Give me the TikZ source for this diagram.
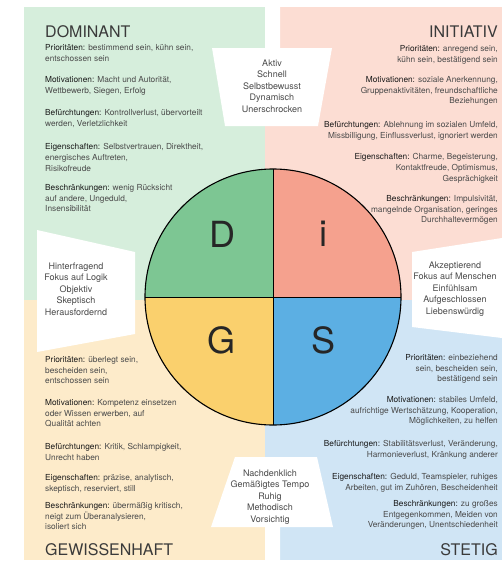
\documentclass[tikz,border=0pt]{standalone}
\usepackage{fontspec}
\setmainfont{TeX Gyre Heros}
\usepackage{xcolor}
\usetikzlibrary{positioning}
\definecolor{dompale}{HTML}{D6EEDC}
\definecolor{inipale}{HTML}{FCDDD3}
\definecolor{gewpale}{HTML}{FDEBCA}
\definecolor{stepale}{HTML}{D0E5F5}
\definecolor{domfill}{HTML}{7DC693}
\definecolor{inifill}{HTML}{F5A18E}
\definecolor{gewfill}{HTML}{FAD06D}
\definecolor{stefill}{HTML}{5CAFE3}
\definecolor{bodygray}{HTML}{4A4A4A}
\definecolor{titlegray}{HTML}{3A3A3A}
\newcommand{\lbl}[1]{\textcolor{black!90}{#1}}
\tikzset{
  infotext/.style={font=\fontsize{8.3}{10.8}\selectfont, text=bodygray, inner sep=0pt},
  infoleft/.style={infotext, align=left, anchor=north west},
  inforight/.style={infotext, align=right, anchor=north east},
  typetitle/.style={font=\fontsize{16}{18}\selectfont, text=titlegray, inner sep=0pt},
  traittext/.style={font=\fontsize{9}{11.6}\selectfont, text=bodygray, align=center, inner sep=0pt},
  discletter/.style={font=\fontsize{36}{36}\selectfont, text=black!85, inner sep=0pt}
}

\begin{document}
\begin{tikzpicture}[x=1pt, y=-1pt]
  \useasboundingbox (0,0) rectangle (502,566);

  % background panels
  \fill[dompale] (24,7) rectangle (265,300);
  \fill[inipale] (265,7) rectangle (502,300);
  \fill[gewpale] (24,300) rectangle (265,560);
  \fill[stepale] (265,300) rectangle (502,560);

  % white trait fields
  \fill[white] (265,0) -- (280,0) -- (280,48) -- (332,48) -- (318,126)
    -- (225,126) -- (212,48) -- (265,48) -- cycle;
  \fill[white] (37,230) -- (135,252) -- (135,334) -- (37,352) -- cycle;
  \fill[white] (412,252) -- (502,238) -- (502,338) -- (412,327) -- cycle;
  \fill[white] (235,457) -- (317,457) -- (333,527) -- (280,527) -- (280,566)
    -- (265,566) -- (265,527) -- (211,527) -- cycle;

  % DISC circle
  \coordinate (c) at (273,297);
  \fill[domfill] (c) -- ++(180:128) arc[start angle=180, end angle=270, radius=128] -- cycle;
  \fill[inifill] (c) -- ++(270:128) arc[start angle=270, end angle=360, radius=128] -- cycle;
  \fill[stefill] (c) -- ++(0:128) arc[start angle=0, end angle=90, radius=128] -- cycle;
  \fill[gewfill] (c) -- ++(90:128) arc[start angle=90, end angle=180, radius=128] -- cycle;
  \draw[line width=1.1pt] (c) circle[radius=128];
  \draw[line width=1pt] (c) ++(-128,0) -- ++(256,0);
  \draw[line width=1pt] (c) ++(0,-128) -- ++(0,256);

  \node[discletter] (letD) at (222,234) {D};
  \node[discletter] (letI) at (323,234) {i};
  \node[discletter] (letG) at (222,340) {G};
  \node[discletter] (letS) at (324,340) {S};

  % DOMINANT
  \node[typetitle, anchor=base west] (domTitle) at (45,37) {DOMINANT};
  \node[infoleft] (domPrio) at (45,44) {\lbl{Prioritäten:} bestimmend sein, kühn sein,\\entschossen sein};
  \node[infoleft] (domMotiv) at (45,76) {\lbl{Motivationen:} Macht und Autorität,\\Wettbewerb, Siegen, Erfolg};
  \node[infoleft] (domFurcht) at (45,109) {\lbl{Befürchtungen:} Kontrollverlust, übervorteilt\\werden, Verletzlichkeit};
  \node[infoleft] (domEigen) at (45,143) {\lbl{Eigenschaften:} Selbstvertrauen, Direktheit,\\energisches Auftreten,\\Risikofreude};
  \node[infoleft] (domGrenz) at (45,184) {\lbl{Beschränkungen:} wenig Rücksicht\\auf andere, Ungeduld,\\Insensibilität};

  % INITIATIV
  \node[typetitle, anchor=base east] (iniTitle) at (498,37) {INITIATIV};
  \node[inforight] (iniPrio) at (498,45) {\lbl{Prioritäten:} anregend sein,\\kühn sein, bestätigend sein};
  \node[inforight] (iniMotiv) at (498,76) {\lbl{Motivationen:} soziale Anerkennung,\\Gruppenaktivitäten, freundschaftliche\\Beziehungen};
  \node[inforight] (iniFurcht) at (498,121) {\lbl{Befürchtungen:} Ablehnung im sozialen Umfeld,\\Missbilligung, Einflussverlust, ignoriert werden};
  \node[inforight] (iniEigen) at (498,153) {\lbl{Eigenschaften:} Charme, Begeisterung,\\Kontaktfreude, Optimismus,\\Gesprächigkeit};
  \node[inforight] (iniGrenz) at (498,195) {\lbl{Beschränkungen:} Impulsivität,\\mangelnde Organisation, geringes\\Durchhaltevermögen};

  % GEWISSENHAFT
  \node[infoleft] (gewPrio) at (45,356) {\lbl{Prioritäten:} überlegt sein,\\bescheiden sein,\\entschossen sein};
  \node[infoleft] (gewMotiv) at (45,399) {\lbl{Motivationen:} Kompetenz einsetzen\\oder Wissen erwerben, auf\\Qualität achten};
  \node[infoleft] (gewFurcht) at (45,443) {\lbl{Befürchtungen:} Kritik, Schlampigkeit,\\Unrecht haben};
  \node[infoleft] (gewEigen) at (45,474) {\lbl{Eigenschaften:} präzise, analytisch,\\skeptisch, reserviert, still};
  \node[infoleft] (gewGrenz) at (45,502) {\lbl{Beschränkungen:} übermäßig kritisch,\\neigt zum Überanalysieren,\\isoliert sich};
  \node[typetitle, anchor=base west] (gewTitle) at (45,555) {GEWISSENHAFT};

  % STETIG
  \node[inforight] (stePrio) at (498,354) {\lbl{Prioritäten:} einbeziehend\\sein, bescheiden sein,\\bestätigend sein};
  \node[inforight] (steMotiv) at (498,396) {\lbl{Motivationen:} stabiles Umfeld,\\aufrichtige Wertschätzung, Kooperation,\\Möglichkeiten, zu helfen};
  \node[inforight] (steFurcht) at (498,440) {\lbl{Befürchtungen:} Stabilitätsverlust, Veränderung,\\Harmonieverlust, Kränkung anderer};
  \node[inforight] (steEigen) at (498,473) {\lbl{Eigenschaften:} Geduld, Teamspieler, ruhiges\\Arbeiten, gut im Zuhören, Bescheidenheit};
  \node[inforight] (steGrenz) at (498,500) {\lbl{Beschränkungen:} zu großes\\Entgegenkommen, Meiden von\\Veränderungen, Unentschiedenheit};
  \node[typetitle, anchor=base east] (steTitle) at (498,555) {STETIG};

  % trait fields
  \node[traittext] (domTraits) at (272,86) {Aktiv\\Schnell\\Selbstbewusst\\Dynamisch\\Unerschrocken};
  \node[traittext] (gewTraits) at (76,289) {Hinterfragend\\Fokus auf Logik\\Objektiv\\Skeptisch\\Herausfordernd};
  \node[traittext] (steTraits) at (455,289) {Akzeptierend\\Fokus auf Menschen\\Einfühlsam\\Aufgeschlossen\\Liebenswürdig};
  \node[traittext] (gewBottom) at (270,497) {Nachdenklich\\Gemäßigtes Tempo\\Ruhig\\Methodisch\\Vorsichtig};
\end{tikzpicture}
\end{document}
